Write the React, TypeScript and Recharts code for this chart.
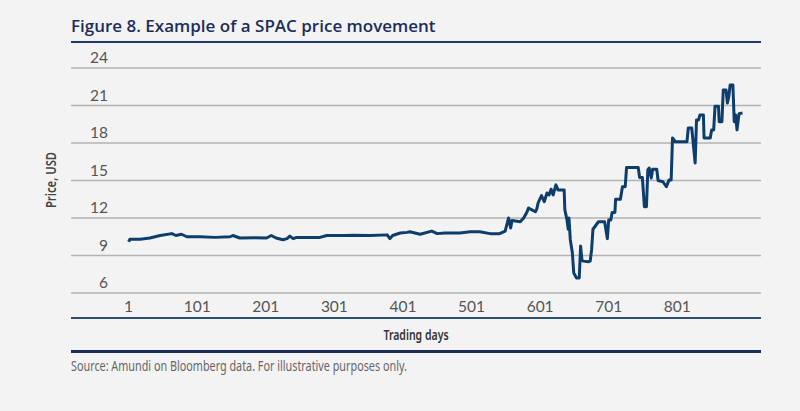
import { LineChart, Line, XAxis, YAxis, CartesianGrid } from "recharts";

const TRADING_DAYS = [
  1, 3, 18, 32, 47, 64, 70, 78, 86, 105, 127, 149, 153, 163, 185, 202, 209, 216, 226, 232,
  236, 241, 246, 265, 280, 290, 299, 316, 328, 353, 378, 382, 386, 397, 407, 411, 426, 443, 451, 462,
  484, 499, 513, 528, 542, 550, 555, 558, 560, 572, 577, 582, 584, 589, 594, 596, 598, 603, 607, 611,
  614, 617, 620, 624, 627, 636, 637, 640, 642, 643, 645, 648, 650, 654, 658, 660, 662, 664, 671, 674,
  676, 678, 686, 695, 699, 701, 704, 706, 710, 711, 718, 721, 725, 727, 744, 746, 750, 753, 756, 758,
  760, 763, 765, 771, 773, 780, 785, 789, 792, 794, 798, 815, 817, 822, 824, 827, 829, 832, 834, 839,
  840, 849, 851, 854, 856, 861, 862, 866, 868, 872, 874, 876, 878, 882, 884, 886, 888, 891, 896,
];

const PRICES = [
  10.1, 10.3, 10.3, 10.4, 10.6, 10.75, 10.6, 10.7, 10.5, 10.5, 10.45, 10.5, 10.6, 10.4, 10.42, 10.4, 10.6, 10.4, 10.26, 10.35,
  10.55, 10.35, 10.45, 10.45, 10.45, 10.6, 10.6, 10.6, 10.62, 10.6, 10.65, 10.35, 10.6, 10.8, 10.85, 10.9, 10.7, 10.95, 10.75, 10.8,
  10.8, 10.9, 10.9, 10.75, 10.75, 10.95, 12.0, 11.2, 11.8, 11.7, 12.0, 12.5, 12.8, 12.65, 12.5, 12.7, 13.2, 13.8, 13.3, 14.0,
  13.85, 14.3, 13.85, 14.65, 14.25, 14.25, 12.65, 11.9, 11.1, 12.0, 10.25, 9.2, 7.6, 7.2, 7.2, 9.75, 8.6, 8.55, 8.5, 8.55,
  9.45, 11.1, 11.7, 11.7, 10.35, 11.85, 11.85, 12.45, 12.45, 13.5, 13.5, 14.5, 14.5, 16.05, 16.05, 15.25, 15.25, 12.9, 12.9, 15.85,
  16.0, 15.2, 15.9, 15.9, 15.0, 14.9, 14.5, 15.05, 15.05, 18.4, 18.1, 18.1, 19.2, 19.2, 18.1, 16.4, 19.85, 19.85, 20.25, 20.25,
  18.4, 18.4, 19.05, 19.05, 20.95, 20.95, 19.7, 19.7, 22.25, 22.25, 21.2, 21.7, 22.65, 22.65, 19.7, 20.25, 19.05, 20.35, 20.4,
];

const X_TICKS = [1, 101, 201, 301, 401, 501, 601, 701, 801];
const Y_TICKS = [6, 9, 12, 15, 18, 21, 24];

const data = TRADING_DAYS.map((day, i) => ({ day, price: PRICES[i] }));

const NAVY = "#1c2d5c";
const TICK_FONT = "Lato, 'Open Sans', sans-serif";
const NARROW_FONT = "'Noto Sans', sans-serif";

function XTick({ x, y, payload }: any) {
  return (
    <text x={x} y={y} dy={-14} textAnchor="middle" fill="#555" fontSize={15.5} fontFamily={TICK_FONT}>
      {payload.value}
    </text>
  );
}

function YTick({ x, y, payload }: any) {
  return (
    <text x={x} y={y} dx={45} dy={-5} textAnchor="end" fill="#555" fontSize={15.5} fontFamily={TICK_FONT}>
      {payload.value}
    </text>
  );
}

export default function App() {
  return (
    <div style={{ position: "fixed", left: 0, top: 0, width: 800, height: 411, background: "#f3f3f3", overflow: "hidden" }}>
      <div
        style={{
          position: "absolute",
          left: 71,
          top: 14,
          fontFamily: "'Open Sans', sans-serif",
          fontWeight: 600,
          fontSize: 17,
          color: NAVY,
          whiteSpace: "nowrap",
        }}
      >
        Figure 8. Example of a SPAC price movement
      </div>
      <div style={{ position: "absolute", left: 71, top: 41, width: 690, height: 2, background: "#1f3a68" }} />

      <div style={{ position: "absolute", left: 0, top: 0 }}>
        <LineChart width={800} height={411} data={data} margin={{ top: 68, right: 39, bottom: 92, left: 31 }}>
          <CartesianGrid horizontal vertical={false} stroke="#b3b3b3" strokeWidth={1.5} />
          <XAxis
            dataKey="day"
            type="number"
            domain={[-83, 923]}
            ticks={X_TICKS}
            interval={0}
            height={1}
            tickLine={false}
            axisLine={{ stroke: "#2a4f72", strokeWidth: 2 }}
            tick={<XTick />}
          />
          <YAxis
            type="number"
            domain={[4, 24]}
            ticks={Y_TICKS}
            interval={0}
            width={40}
            tickLine={false}
            axisLine={false}
            tick={<YTick />}
          />
          <Line
            type="linear"
            dataKey="price"
            stroke="#0d3d6b"
            strokeWidth={3}
            dot={false}
            strokeLinejoin="round"
            isAnimationActive={false}
          />
        </LineChart>
      </div>

      <div
        style={{
          position: "absolute",
          left: 50,
          top: 180,
          transform: "translate(-50%, -50%) rotate(-90deg) scaleX(0.75)",
          fontFamily: NARROW_FONT,
          fontWeight: 600,
          fontSize: 15,
          color: "#444",
          whiteSpace: "nowrap",
        }}
      >
        Price, USD
      </div>
      <div
        style={{
          position: "absolute",
          left: 416,
          top: 334,
          transform: "translate(-50%, -50%) scaleX(0.7)",
          fontFamily: NARROW_FONT,
          fontWeight: 600,
          fontSize: 15,
          color: "#333",
          whiteSpace: "nowrap",
        }}
      >
        Trading days
      </div>
      <div style={{ position: "absolute", left: 71, top: 350, width: 690, height: 3, background: NAVY }} />
      <div
        style={{
          position: "absolute",
          left: 71,
          top: 355,
          transform: "scaleX(0.72)",
          transformOrigin: "left center",
          fontFamily: NARROW_FONT,
          fontSize: 15,
          color: "#666",
          whiteSpace: "nowrap",
        }}
      >
        Source: Amundi on Bloomberg data. For illustrative purposes only.
      </div>
    </div>
  );
}
